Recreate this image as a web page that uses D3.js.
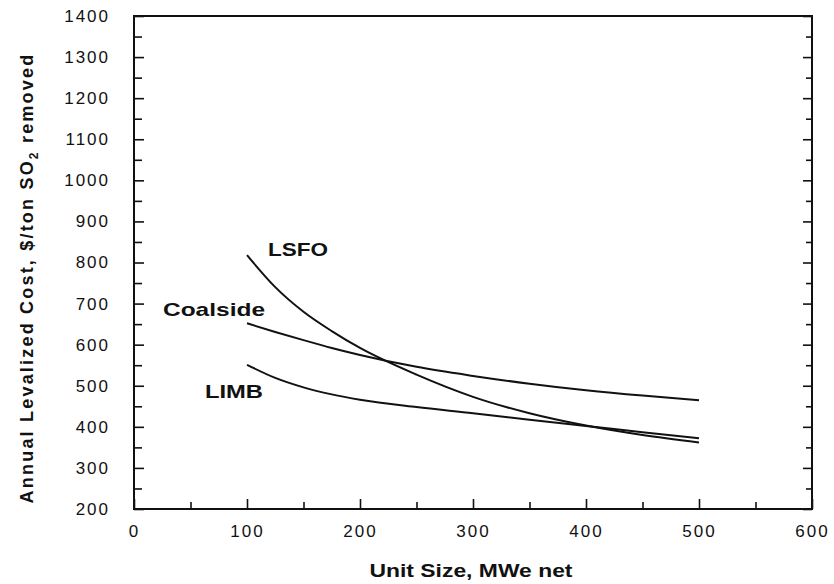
<!DOCTYPE html>
<html>
<head>
<meta charset="utf-8">
<script src="https://cdn.jsdelivr.net/npm/d3@7"></script>
<style>
  html, body { margin: 0; padding: 0; background: #fff; }
  svg { display: block; }
  text { font-family: "Liberation Sans", Arial, Helvetica, sans-serif; fill: #111; }
</style>
</head>
<body>
<svg id="chart" width="834" height="584"></svg>
<script>
// ---- data ----
const unitSize = [100, 125, 150, 175, 200, 250, 300, 350, 400, 450, 500];
const lsfo     = [818, 740, 680, 633, 592, 527, 473, 433, 403, 380, 362];
const coalside = [652, 631, 611, 592, 575, 546, 524, 505, 489, 476, 465];
const limb     = [551, 519, 496, 479, 466, 448, 433, 417, 402, 387, 372];
const seriesNames = ["LSFO", "Coalside", "LIMB"];
const xTickValues = [0, 100, 200, 300, 400, 500, 600];
const yTickValues = [200, 300, 400, 500, 600, 700, 800, 900, 1000, 1100, 1200, 1300, 1400];
const xTitle = "Unit Size, MWe net";

// ---- layout ----
const svg = d3.select("#chart");
const L = 134, R = 812, T = 16, B = 509;
const x = d3.scaleLinear().domain([0, 600]).range([L, R]);
const y = d3.scaleLinear().domain([200, 1400]).range([B, T]);

const minorX = d3.range(0, 601, 50);
const minorY = d3.range(200, 1401, 50);

// bottom axis (ticks pointing up)
const gB = svg.append("g").attr("transform", `translate(0,${B})`);
gB.call(d3.axisBottom(x).tickValues(minorX).tickSize(-7).tickFormat(""));
gB.selectAll(".tick line").attr("y2", d => d % 100 === 0 ? -10 : -7);
gB.select(".domain").remove();

const gBl = svg.append("g").attr("transform", `translate(0,${B})`);
gBl.call(d3.axisBottom(x).tickValues(xTickValues).tickSize(0).tickPadding(16).tickFormat(d3.format("d")));
gBl.select(".domain").remove();
gBl.selectAll("text").attr("font-size", 17).attr("letter-spacing", 2).attr("fill", "#111");

// left axis (ticks pointing right)
const gL = svg.append("g").attr("transform", `translate(${L},0)`);
gL.call(d3.axisLeft(y).tickValues(minorY).tickSize(-9).tickFormat(""));
gL.selectAll(".tick line").attr("x2", d => d % 100 === 0 ? 10 : 8);
gL.select(".domain").remove();

const gLl = svg.append("g").attr("transform", `translate(${L},0)`);
gLl.call(d3.axisLeft(y).tickValues(yTickValues).tickSize(0).tickPadding(24).tickFormat(d3.format("d")));
gLl.select(".domain").remove();
gLl.selectAll("text").attr("font-size", 17).attr("letter-spacing", 2).attr("fill", "#111");

// right axis (ticks pointing left)
const gR = svg.append("g").attr("transform", `translate(${R},0)`);
gR.call(d3.axisRight(y).tickValues(minorY).tickSize(-8).tickFormat(""));
gR.selectAll(".tick line").attr("x2", d => d % 100 === 0 ? -9 : -6);
gR.select(".domain").remove();

// frame
svg.append("rect").attr("x", L).attr("y", T).attr("width", R - L).attr("height", B - T)
  .attr("fill", "none").attr("stroke", "#111").attr("stroke-width", 2);
svg.selectAll(".tick line").attr("stroke", "#111").attr("stroke-width", 1.6);

// curves
const line = d3.line().x(d => x(d[0])).y(d => y(d[1])).curve(d3.curveMonotoneX);
const allSeries = [lsfo, coalside, limb];
svg.append("g").selectAll("path").data(allSeries).join("path")
  .attr("d", s => line(unitSize.map((u, i) => [u, s[i]])))
  .attr("fill", "none").attr("stroke", "#111").attr("stroke-width", 2);

// series labels
const labelPos = [
  {x: 268, y: 256, w: 60},
  {x: 163, y: 316, w: 102},
  {x: 205, y: 398, w: 58}
];
svg.append("g").selectAll("text").data(seriesNames).join("text")
  .attr("x", (d, i) => labelPos[i].x).attr("y", (d, i) => labelPos[i].y)
  .attr("textLength", (d, i) => labelPos[i].w).attr("lengthAdjust", "spacingAndGlyphs")
  .attr("font-size", 19).attr("font-weight", 600).text(d => d);

// x title
svg.append("text").attr("x", 471).attr("y", 577).attr("text-anchor", "middle")
  .attr("font-size", 18).attr("font-weight", 600)
  .attr("textLength", 203).attr("lengthAdjust", "spacingAndGlyphs")
  .text(xTitle);

// y title
const yt = svg.append("text")
  .attr("transform", "translate(33,278) rotate(-90)")
  .attr("text-anchor", "middle").attr("font-size", 18).attr("font-weight", 600)
  .attr("letter-spacing", 2.2);
yt.append("tspan").text("Annual Levalized Cost, $/ton SO");
yt.append("tspan").attr("font-size", 12).attr("dy", 5).text("2");
yt.append("tspan").attr("dy", -5).text(" removed");
</script>
</body>
</html>
